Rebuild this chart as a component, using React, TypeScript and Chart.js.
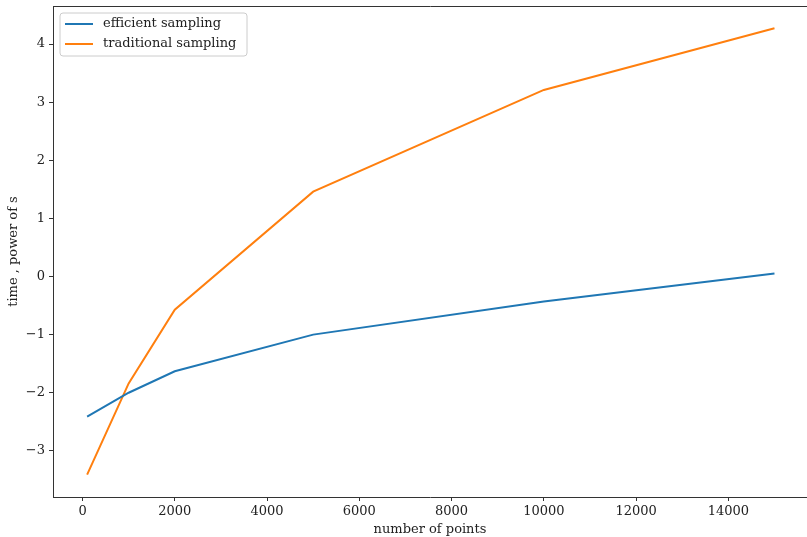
import React, { useEffect, useRef } from "react";
import { Chart, registerables } from "chart.js";

Chart.register(...registerables);

const xPoints = [100, 1000, 2000, 5000, 10000, 15000];
const efficient = [-2.41, -2.0, -1.63, -1.0, -0.43, 0.05];
const traditional = [-3.41, -1.84, -0.57, 1.46, 3.21, 4.27];
const xTicks = [0, 2000, 4000, 6000, 8000, 10000, 12000, 14000];
const yTicks = [-3, -2, -1, 0, 1, 2, 3, 4];
const seriesLabels = ["efficient sampling", "traditional sampling"];
const seriesColors = ["#1f77b4", "#ff7f0e"];

const FONT = "'DejaVu Serif', serif";

const fmt = (v: number) => String(v).replace("-", "\u2212");

const framePlugin = {
  id: "frameAndLegend",
  afterDraw(chart: any) {
    const { ctx, chartArea } = chart;
    ctx.save();
    ctx.strokeStyle = "#333";
    ctx.lineWidth = 1;
    ctx.beginPath();
    const ty = Math.round(chartArea.top) + 0.5;
    ctx.moveTo(chartArea.left, ty);
    ctx.lineTo(chartArea.right + 2, ty);
    ctx.stroke();
    // legend
    const bx = chartArea.left + 7;
    const by = chartArea.top + 7;
    const bw = 187;
    const bh = 43;
    const r = 3;
    ctx.beginPath();
    ctx.moveTo(bx + r, by);
    ctx.lineTo(bx + bw - r, by);
    ctx.arcTo(bx + bw, by, bx + bw, by + r, r);
    ctx.lineTo(bx + bw, by + bh - r);
    ctx.arcTo(bx + bw, by + bh, bx + bw - r, by + bh, r);
    ctx.lineTo(bx + r, by + bh);
    ctx.arcTo(bx, by + bh, bx, by + bh - r, r);
    ctx.lineTo(bx, by + r);
    ctx.arcTo(bx, by, bx + r, by, r);
    ctx.closePath();
    ctx.fillStyle = "rgba(255,255,255,0.8)";
    ctx.fill();
    ctx.strokeStyle = "#cccccc";
    ctx.lineWidth = 1;
    ctx.stroke();
    ctx.font = `13px ${FONT}`;
    ctx.textBaseline = "middle";
    ctx.textAlign = "left";
    chart.data.datasets.forEach((ds: any, i: number) => {
      const y = by + 11 + i * 20;
      ctx.beginPath();
      ctx.moveTo(bx + 5, y);
      ctx.lineTo(bx + 33, y);
      ctx.strokeStyle = ds.borderColor;
      ctx.lineWidth = 2;
      ctx.stroke();
      ctx.fillStyle = "#222";
      ctx.fillText(ds.label, bx + 43, y);
    });
    ctx.restore();
  },
};

export default function App() {
  const ref = useRef<HTMLCanvasElement | null>(null);
  useEffect(() => {
    document.body.style.margin = "0";
    const canvas = ref.current!;
    const chart = new Chart(canvas, {
      type: "line",
      data: {
        datasets: [
          {
            label: seriesLabels[0],
            data: xPoints.map((x, i) => ({ x, y: efficient[i] })),
            borderColor: seriesColors[0],
            backgroundColor: seriesColors[0],
            borderWidth: 2,
            pointRadius: 0,
            tension: 0,
          },
          {
            label: seriesLabels[1],
            data: xPoints.map((x, i) => ({ x, y: traditional[i] })),
            borderColor: seriesColors[1],
            backgroundColor: seriesColors[1],
            borderWidth: 2,
            pointRadius: 0,
            tension: 0,
          },
        ],
      },
      options: {
        responsive: false,
        animation: false,
        layout: { padding: { top: 6, right: 0, left: 0, bottom: 0 } },
        plugins: { legend: { display: false }, tooltip: { enabled: false } },
        scales: {
          x: {
            type: "linear",
            min: -640,
            max: 15705,
            afterBuildTicks: (s: any) => {
              s.ticks = xTicks.map((v) => ({ value: v }));
            },
            afterFit: (s: any) => {
              s.height = 40;
              s.paddingLeft = 0;
              s.paddingRight = 0;
            },
            grid: {
              drawOnChartArea: false,
              drawTicks: true,
              tickLength: 4,
              tickColor: "#333",
            },
            border: { display: true, color: "#333", width: 1 },
            ticks: {
              autoSkip: false,
              maxRotation: 0,
              padding: 3,
              color: "#222",
              font: { family: FONT, size: 13 },
              callback: (v: any) => fmt(Number(v)),
            },
            title: {
              display: true,
              text: "number of points",
              color: "#222",
              font: { family: FONT, size: 13 },
              padding: { top: 0, bottom: 0 },
            },
          },
          y: {
            type: "linear",
            min: -3.794,
            max: 4.654,
            afterBuildTicks: (s: any) => {
              s.ticks = yTicks.map((v) => ({ value: v }));
            },
            afterFit: (s: any) => {
              s.width = 53;
              s.paddingTop = 0;
              s.paddingBottom = 0;
            },
            grid: {
              drawOnChartArea: false,
              drawTicks: true,
              tickLength: 4,
              tickColor: "#333",
            },
            border: { display: true, color: "#333", width: 1 },
            ticks: {
              autoSkip: false,
              padding: 4,
              color: "#222",
              font: { family: FONT, size: 13 },
              callback: (v: any) => fmt(Number(v)),
            },
            title: {
              display: true,
              text: "time , power of s",
              color: "#222",
              font: { family: FONT, size: 13 },
              padding: { top: 6, bottom: 0 },
            },
          },
        },
      },
      plugins: [framePlugin],
    });
    return () => chart.destroy();
  }, []);
  return (
    <div style={{ position: "absolute", left: 0, top: 0, width: 807, height: 537 }}>
      <canvas ref={ref} width={807} height={537} style={{ width: 807, height: 537 }} />
    </div>
  );
}
